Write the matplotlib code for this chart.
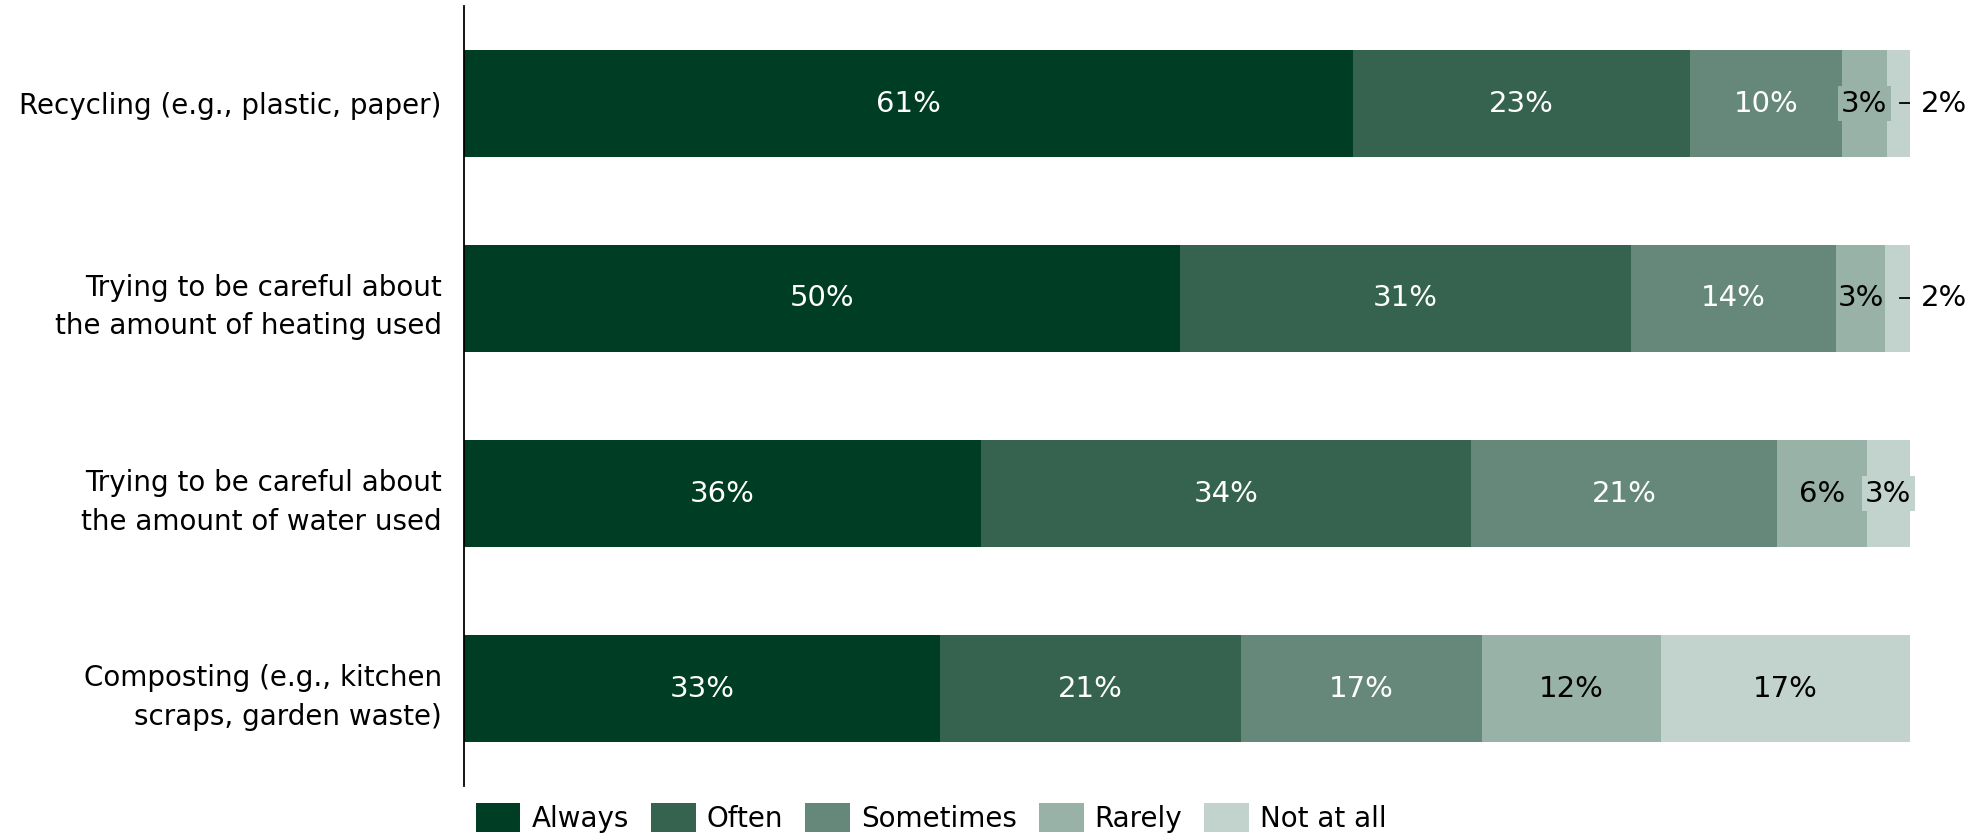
import numpy as np
import matplotlib
matplotlib.use("Agg")
import matplotlib.pyplot as plt

plt.rcParams['font.family'] = ['DejaVu Sans']

categories = ['Recycling (e.g., plastic, paper)',
              'Trying to be careful about\nthe amount of heating used',
              'Trying to be careful about\nthe amount of water used',
              'Composting (e.g., kitchen\nscraps, garden waste)']
series = ['Always', 'Often', 'Sometimes', 'Rarely', 'Not at all']
always = [61.4, 49.5, 35.8, 32.9]
often = [23.3, 31.2, 33.9, 20.8]
sometimes = [10.5, 14.2, 21.2, 16.7]
rarely = [3.1, 3.4, 6.2, 12.4]
not_at_all = [1.6, 1.7, 3.0, 17.2]
colors = ['#003d25', '#356350', '#66887a', '#99b2a7', '#c2d3cd']
text_colors = ['white', 'white', 'white', 'black', 'black']

raw = np.array([always, often, sometimes, rarely, not_at_all])
values = raw / raw.sum(axis=0) * 100

fig = plt.figure(figsize=(19.82, 8.38), dpi=100)
ax = fig.add_axes([464/1982, 1-786/838, (1910-464)/1982, 780/838])

fs = 20
fs_bar = 21
y = np.arange(len(categories))
left = np.zeros(len(categories))
for i, name in enumerate(series):
    w = values[i]
    ax.barh(y, w, left=left, height=0.55, color=colors[i], label=name)
    for j in range(len(categories)):
        lab = '%d%%' % round(raw[i][j])
        cx = left[j] + w[j] / 2
        if w[j] < 2.5:
            # small slice: label outside with a short leader line
            ax.plot([left[j] + w[j] - 0.7, left[j] + w[j] + 0.4], [y[j], y[j]],
                    color='black', lw=1.3)
            ax.text(left[j] + w[j] + 0.75, y[j], lab, ha='left', va='center',
                    fontsize=fs_bar, color='black')
        elif w[j] < 3.3:
            ax.text(cx, y[j], lab, ha='center', va='center', fontsize=fs_bar,
                    color=text_colors[i],
                    bbox=dict(boxstyle='square,pad=0.12', fc=colors[i], ec='none'))
        else:
            ax.text(cx, y[j], lab, ha='center', va='center', fontsize=fs_bar,
                    color=text_colors[i])
    left += w

ax.set_xlim(0, 100)
ax.set_ylim(3.5, -0.5)
ax.set_yticks(y)
ax.set_yticklabels(categories, fontsize=fs, linespacing=1.5)
ax.tick_params(axis='y', length=0, pad=16)
ax.set_xticks([])
for s in ['top', 'right', 'bottom']:
    ax.spines[s].set_visible(False)
ax.spines['left'].set_color('black')
ax.spines['left'].set_linewidth(1.3)

fig.legend(loc='lower left', bbox_to_anchor=(476/1982, 5/838), ncol=5,
           frameon=False, fontsize=fs, handlelength=1.6, handleheight=1.2,
           handletextpad=0.4, columnspacing=0.8, borderpad=0, borderaxespad=0)

fig.savefig('out.png', dpi=100)
